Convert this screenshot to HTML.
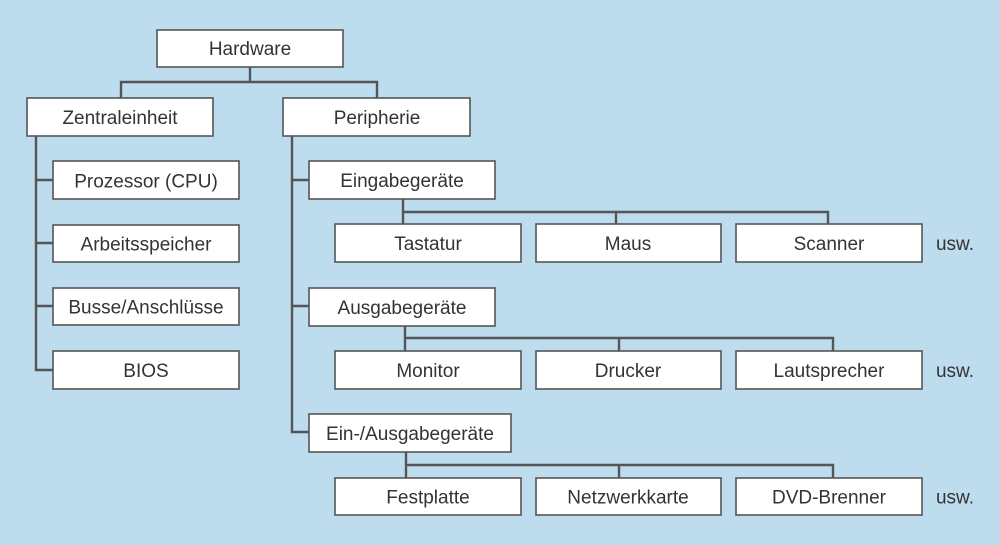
<!DOCTYPE html>
<html><head><meta charset="utf-8"><style>
html,body{margin:0;padding:0;background:#bddcee;}
svg{display:block}
text{font-family:"Liberation Sans","DejaVu Sans",sans-serif;font-size:19px;fill:#333;text-anchor:middle;dominant-baseline:central}
rect{fill:#fff;stroke:#555;stroke-width:1.6}
path{fill:none;stroke:#555;stroke-width:2.4}
</style></head><body>
<svg width="1000" height="545" viewBox="0 0 1000 545" xmlns="http://www.w3.org/2000/svg">
<rect x="0" y="0" width="1000" height="545" style="fill:#bddcee;stroke:none"/>
<path d="M250 67V82M121 98V82H377V98"/>
<path d="M36 136V370H54M36 180H54M36 243H54M36 306H54"/>
<path d="M292 136V432H309M292 180H309M292 306H309"/>
<path d="M403 199V224M403 212H828V224M616 212V224"/>
<path d="M405 326V351M405 338H833V351M619 338V351"/>
<path d="M406 452V478M406 465H833V478M619 465V478"/>
<g transform="translate(0,1.5)">
<rect x="157" y="28.5" width="186" height="37"/><text x="250" y="48">Hardware</text>
</g>
<rect x="27" y="98" width="186" height="38"/><text x="120" y="118.5">Zentraleinheit</text>
<rect x="283" y="98" width="187" height="38"/><text x="377" y="118.5">Peripherie</text>
<rect x="53" y="161" width="186" height="38"/><text x="146" y="182">Prozessor (CPU)</text>
<rect x="53" y="225" width="186" height="37"/><text x="146" y="245">Arbeitsspeicher</text>
<rect x="53" y="288" width="186" height="37"/><text x="146" y="308">Busse/Anschlüsse</text>
<rect x="53" y="351" width="186" height="38"/><text x="146" y="371.5">BIOS</text>
<rect x="309" y="161" width="186" height="38"/><text x="402" y="181.5">Eingabegeräte</text>
<rect x="309" y="288" width="186" height="38"/><text x="402" y="308.5">Ausgabegeräte</text>
<rect x="309" y="414" width="202" height="38"/><text x="410" y="434.5">Ein-/Ausgabegeräte</text>
<rect x="335" y="224" width="186" height="38"/><text x="428" y="244.5">Tastatur</text>
<rect x="536" y="224" width="185" height="38"/><text x="628" y="244.5">Maus</text>
<rect x="736" y="224" width="186" height="38"/><text x="829" y="244.5">Scanner</text>
<rect x="335" y="351" width="186" height="38"/><text x="428" y="371.5">Monitor</text>
<rect x="536" y="351" width="185" height="38"/><text x="628" y="371.5">Drucker</text>
<rect x="736" y="351" width="186" height="38"/><text x="829" y="371.5">Lautsprecher</text>
<rect x="335" y="478" width="186" height="37"/><text x="428" y="498">Festplatte</text>
<rect x="536" y="478" width="185" height="37"/><text x="628" y="498">Netzwerkkarte</text>
<rect x="736" y="478" width="186" height="37"/><text x="829" y="498">DVD-Brenner</text>
<text x="955" y="244.5">usw.</text>
<text x="955" y="371.5">usw.</text>
<text x="955" y="498">usw.</text>
</svg>
</body></html>
